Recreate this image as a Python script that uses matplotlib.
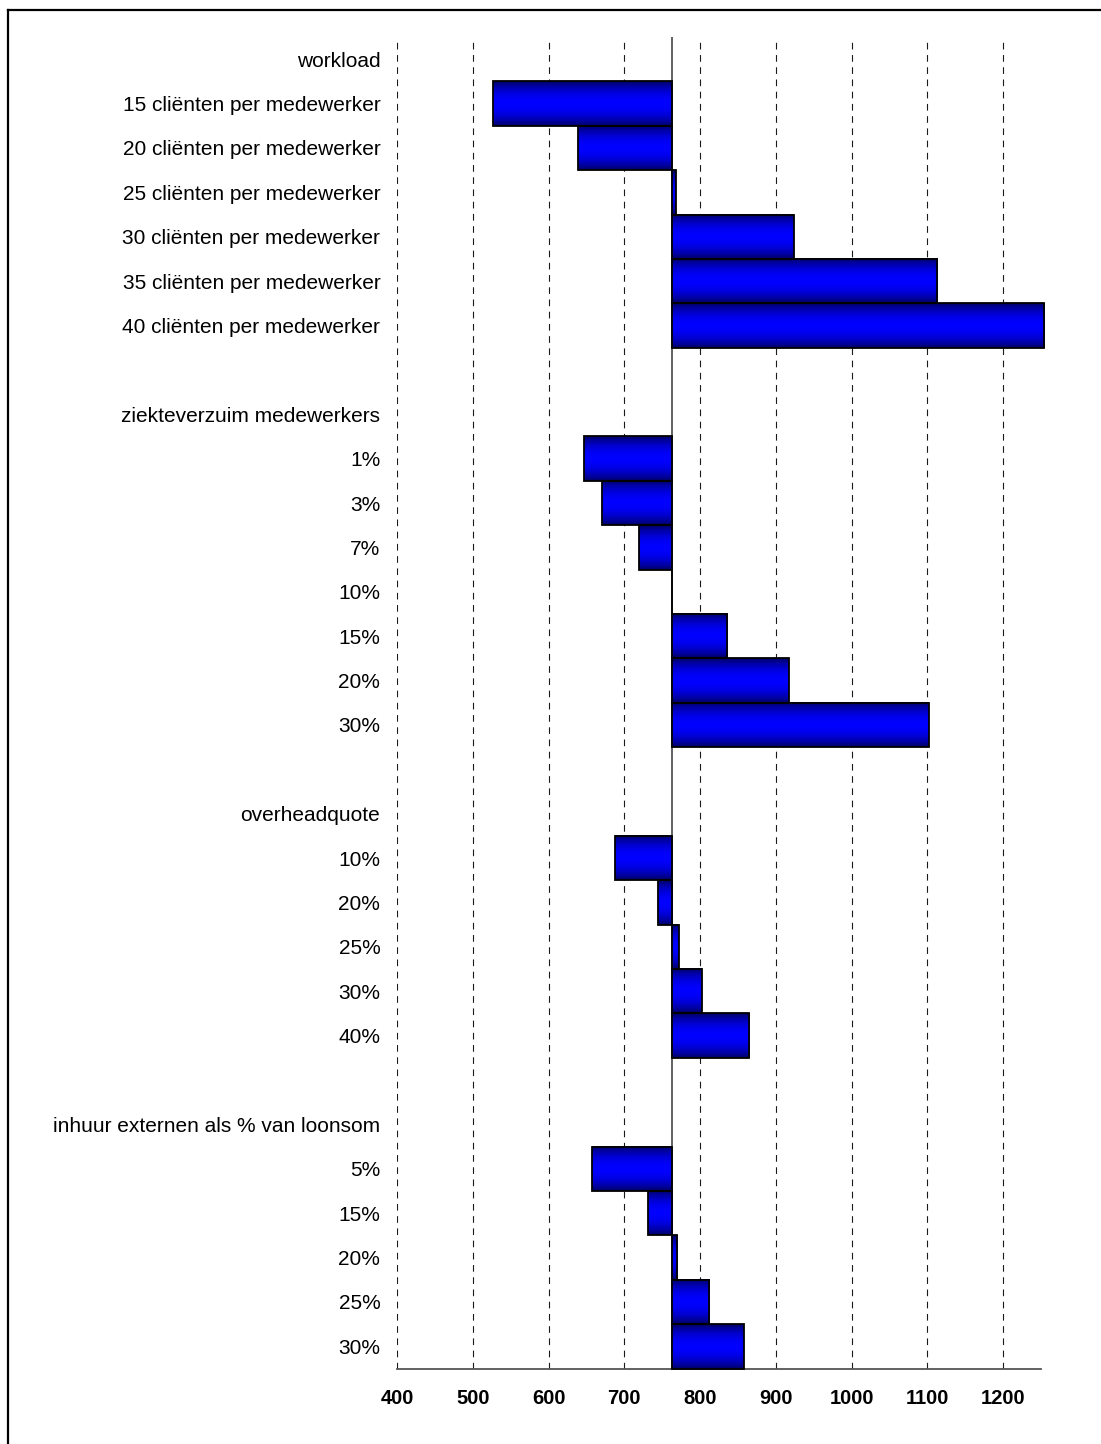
import numpy as np
import matplotlib
matplotlib.use("Agg")
import matplotlib.pyplot as plt
from matplotlib.lines import Line2D

plt.rcParams['font.family'] = ['Liberation Sans', 'DejaVu Sans']

# Cost per client in the base scenario; every bar runs from here to its scenario value
base_cost = 763

workload_title = "workload"
workload_labels = ["15 cliënten per medewerker", "20 cliënten per medewerker",
                   "25 cliënten per medewerker", "30 cliënten per medewerker",
                   "35 cliënten per medewerker", "40 cliënten per medewerker"]
workload_values = [527, 639, 768, 924, 1113, 1254]

absence_title = "ziekteverzuim medewerkers"
absence_labels = ["1%", "3%", "7%", "10%", "15%", "20%", "30%"]
absence_values = [647, 671, 720, 763, 836, 917, 1102]

overhead_title = "overheadquote"
overhead_labels = ["10%", "20%", "25%", "30%", "40%"]
overhead_values = [688, 744, 772, 802, 865]

external_title = "inhuur externen als % van loonsom"
external_labels = ["5%", "15%", "20%", "25%", "30%"]
external_values = [658, 731, 770, 812, 858]

x_ticks = [400, 500, 600, 700, 800, 900, 1000, 1100, 1200]
x_range = (400, 1250)

groups = [
    (workload_title, workload_labels, workload_values),
    (absence_title, absence_labels, absence_values),
    (overhead_title, overhead_labels, overhead_values),
    (external_title, external_labels, external_values),
]

# Flatten the groups into rows: a header row per group, an empty row between groups
row_labels, row_values = [], []
for i, (title, labels, values) in enumerate(groups):
    if i > 0:
        row_labels.append("")
        row_values.append(None)
    row_labels.append(title)
    row_values.append(None)
    row_labels.extend(labels)
    row_values.extend(values)

rows = np.arange(len(row_labels))
bar_rows = [r for r, v in zip(rows, row_values) if v is not None]
bar_vals = np.array([v for v in row_values if v is not None], dtype=float)

W, H = 1101, 1444
fig = plt.figure(figsize=(W / 100, H / 100), dpi=100)
ax = fig.add_axes([397 / W, 1 - 1368.5 / H, (1041 - 397) / W, (1368.5 - 37) / H])

# vertical shading: dark navy at the edges, bright blue in the middle
t = np.linspace(0, 1, 256)
shade = 0.36 + 0.64 * np.sin(np.pi * t) ** 0.8
grad = np.zeros((256, 1, 3))
grad[:, 0, 2] = shade

bars = ax.barh(bar_rows, bar_vals - base_cost, left=base_cost, height=1.0,
               facecolor="none", edgecolor="black", linewidth=1.3, zorder=4)
for patch in bars:
    patch.set_clip_on(False)
    x0, y0 = patch.get_x(), patch.get_y()
    w, h = patch.get_width(), patch.get_height()
    if w == 0:
        continue
    ax.imshow(grad, extent=(x0, x0 + w, y0 + h, y0), aspect="auto",
              interpolation="bilinear", zorder=3, clip_on=False)

ax.axvline(base_cost, color="#555555", linewidth=1.3, zorder=2)

ax.set_xlim(*x_range)
ax.set_ylim(len(rows) - 0.5, -0.5)
ax.set_xticks(x_ticks)
ax.set_xticklabels([str(v) for v in x_ticks], fontsize=14.5, fontweight="bold")
ax.set_yticks(rows)
ax.set_yticklabels(row_labels, fontsize=15)
ax.tick_params(axis="x", length=0, pad=15)
ax.tick_params(axis="y", length=0, pad=12)

ax.xaxis.grid(True, linestyle=(0, (6, 5)), color="#1a1a1a", linewidth=0.8)
ax.set_axisbelow(True)

for side in ("left", "top", "right"):
    ax.spines[side].set_visible(False)
ax.spines["bottom"].set_color("#555555")
ax.spines["bottom"].set_linewidth(1.3)

# outer frame (left and top edges)
fx, fy = 8 / W, 1 - 10 / H
fig.add_artist(Line2D([fx, fx], [0, fy], transform=fig.transFigure, color="black", linewidth=1.6))
fig.add_artist(Line2D([fx, 1], [fy, fy], transform=fig.transFigure, color="black", linewidth=1.6))

fig.savefig("out.png", dpi=100, facecolor="white")
